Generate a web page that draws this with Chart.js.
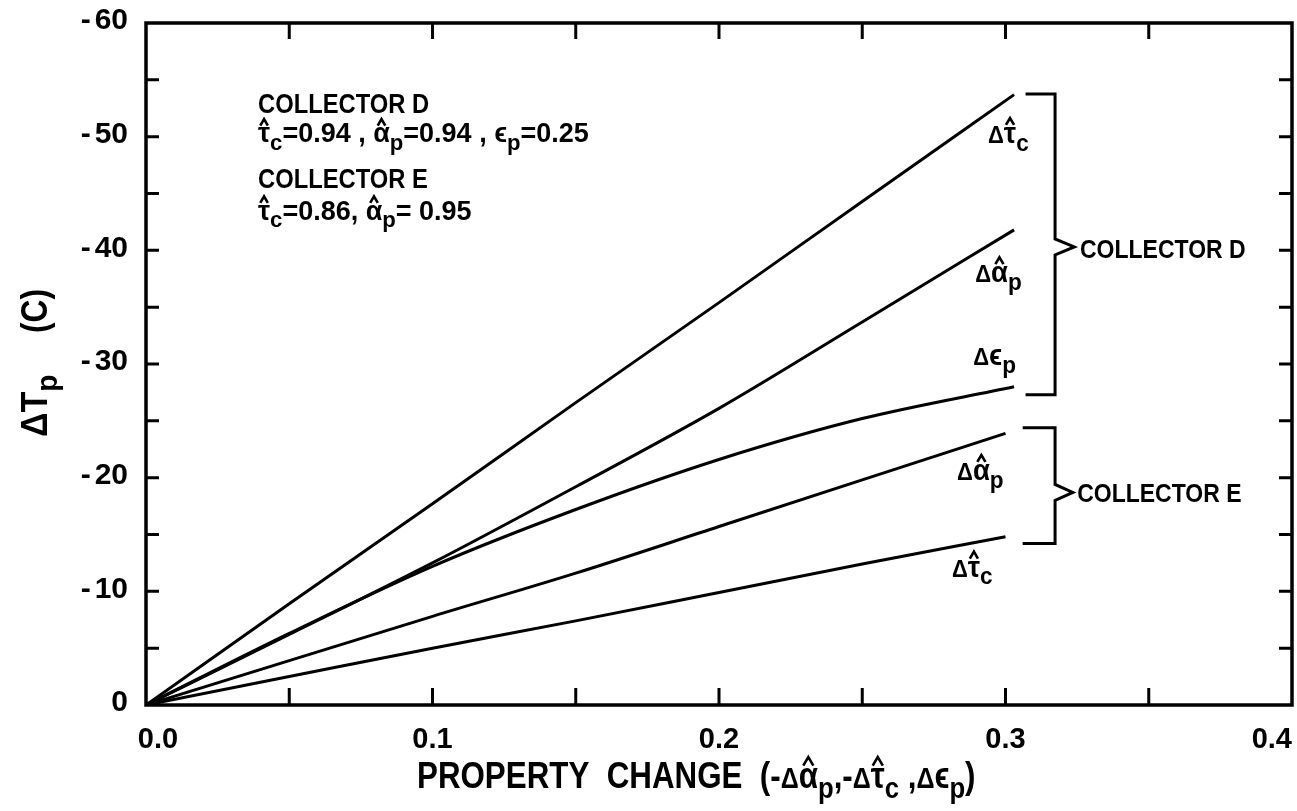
<!DOCTYPE html>
<html>
<head>
<meta charset="utf-8">
<script src="https://cdn.jsdelivr.net/npm/chart.js@4.4.1/dist/chart.umd.min.js"></script>
<style>
  body { margin: 0; background: #fff; }
  canvas { display: block; }
</style>
</head>
<body>
<canvas id="grafica" width="1297" height="811"></canvas>
<script>
// Cambio de propiedad (eje x) para cada colector
const xD = [0, 0.05, 0.10, 0.15, 0.20, 0.25, 0.303];
const xE = [0, 0.05, 0.10, 0.15, 0.20, 0.25, 0.30];

// ΔTp (C)
const tauD   = [0, -8.9, -17.7, -26.6, -35.4, -44.3, -53.7];
const alphaD = [0, -6.2, -12.5, -19.2, -26.1, -33.7, -41.8];
const epsD   = [0, -6.3, -12.2, -17.2, -21.6, -25.2, -28.0];
const alphaE = [0, -3.9, -7.8, -11.6, -15.7, -19.8, -23.9];
const tauE   = [0, -2.5, -5.0, -7.4, -9.9, -12.4, -14.8];

// Etiquetas de los ejes
const xLabelValues = [0, 0.1, 0.2, 0.3, 0.4];
const xTickLabels  = ['0.0', '0.1', '0.2', '0.3', '0.4'];
const yLabelValues = [-60, -50, -40, -30, -20, -10, 0];
const yTickLabels  = ['-60', '-50', '-40', '-30', '-20', '-10', '0'];

const FONT = "'Liberation Sans', 'DejaVu Sans', sans-serif";

function pts(xs, ys) {
  return xs.map((x, i) => ({ x: x, y: ys[i] }));
}

// texto comprimido horizontalmente, regresa el ancho
function put(ctx, str, x, y, size, sq) {
  ctx.font = 'bold ' + size + 'px ' + FONT;
  ctx.save();
  ctx.translate(x, y);
  ctx.scale(sq, 1);
  ctx.fillText(str, 0, 0);
  ctx.restore();
  return ctx.measureText(str).width * sq;
}

function hat(ctx, cx, top, w, h) {
  ctx.beginPath();
  ctx.moveTo(cx - w / 2, top + h);
  ctx.lineTo(cx, top);
  ctx.lineTo(cx + w / 2, top + h);
  ctx.stroke();
}

// partes: texto simple o {t, sub, hat, k}
function rich(ctx, parts, x, y, size, sq) {
  let cx = x;
  ctx.textAlign = 'left';
  ctx.textBaseline = 'alphabetic';
  for (const p of parts) {
    if (typeof p === 'string') { cx += put(ctx, p, cx, y, size, sq); continue; }
    const s = size * (p.k || 1);
    const w = put(ctx, p.t, cx, y, s, sq);
    if (p.hat) {
      ctx.lineWidth = 2.6;
      hat(ctx, cx + w / 2, y - size * 0.86, size * 0.28, size * 0.24);
    }
    cx += w;
    if (p.sub) cx += put(ctx, p.sub, cx, y + size * 0.27, size * 0.82, sq);
  }
  return cx - x;
}

const TAU_C = { t: '\u03c4', hat: true, sub: 'c' };
const ALPHA_P = { t: '\u03b1', hat: true, sub: 'p' };
const EPS_P = { t: '\u03f5', sub: 'p' };
const DELTA = { t: '\u0394', k: 0.8 };

const marco = {
  id: 'marco',
  afterDraw(chart) {
    const ctx = chart.ctx;
    const a = chart.chartArea;
    const sx = chart.scales.x, sy = chart.scales.y;
    const X = v => sx.getPixelForValue(v), Y = v => sy.getPixelForValue(v);
    ctx.save();
    ctx.strokeStyle = '#000';
    ctx.fillStyle = '#000';
    ctx.lineCap = 'butt';

    // marco
    ctx.lineWidth = 3.5;
    ctx.strokeRect(a.left, a.top, a.right - a.left, a.bottom - a.top);

    // marcas hacia adentro
    ctx.lineWidth = 3;
    ctx.beginPath();
    sx.ticks.forEach(t => {
      const px = X(t.value);
      if (px <= a.left + 2 || px >= a.right - 2) return;
      ctx.moveTo(px, a.bottom); ctx.lineTo(px, a.bottom - 17);
      ctx.moveTo(px, a.top); ctx.lineTo(px, a.top + 16);
    });
    sy.ticks.forEach(t => {
      const py = Y(t.value);
      if (py <= a.top + 2 || py >= a.bottom - 2) return;
      ctx.moveTo(a.left, py); ctx.lineTo(a.left + 13, py);
      ctx.moveTo(a.right, py); ctx.lineTo(a.right - 13, py);
    });
    ctx.stroke();

    // etiquetas de los ejes
    ctx.textBaseline = 'middle';
    yLabelValues.forEach((v, i) => {
      const s = yTickLabels[i];
      ctx.font = 'bold 30px ' + FONT;
      ctx.textAlign = 'right';
      if (s.startsWith('-')) {
        ctx.fillText(s.slice(1), 128, Y(v) - 2);
        const w = ctx.measureText(s.slice(1)).width;
        ctx.fillText('-', 128 - w - 4, Y(v) - 2);
      } else {
        ctx.fillText(s, 128, Y(v) - 2);
      }
    });
    ctx.font = 'bold 29px ' + FONT;
    ctx.textBaseline = 'top';
    xLabelValues.forEach((v, i) => {
      let px = X(v);
      ctx.textAlign = 'center';
      if (i === 0) px += 12;
      if (i === xLabelValues.length - 1) { ctx.textAlign = 'right'; }
      ctx.fillText(xTickLabels[i], px, a.bottom + 20);
    });

    // titulo eje x
    rich(ctx, ['PROPERTY  CHANGE  (-', DELTA, ALPHA_P, ',-', DELTA, TAU_C, ' ,', DELTA, EPS_P, ')'],
      417, 788, 36, 0.87);

    // titulo eje y
    ctx.save();
    ctx.translate(47, 437);
    ctx.rotate(-Math.PI / 2);
    rich(ctx, ['\u0394T', { t: '', sub: 'p' }], 0, 0, 37, 0.92);
    put(ctx, '(C)', 104, 0, 36, 0.88);
    ctx.restore();

    // texto de los colectores
    const L = X(0.0391);
    put(ctx, 'COLLECTOR D', L, Y(-52.1), 27, 0.88);
    rich(ctx, [TAU_C, '=0.94 , ', ALPHA_P, '=0.94 , ', EPS_P, '=0.25'], L, Y(-49.5), 27, 1.0);
    put(ctx, 'COLLECTOR E', L, Y(-45.5), 27, 0.88);
    rich(ctx, [TAU_C, '=0.86, ', ALPHA_P, '= 0.95'], L, Y(-42.7), 27, 1.0);

    // nombres de las curvas
    rich(ctx, [DELTA, TAU_C], X(0.2939), Y(-49.45), 29, 0.95);
    rich(ctx, [DELTA, ALPHA_P], X(0.2894), Y(-37.2), 29, 0.95);
    rich(ctx, [DELTA, EPS_P], X(0.2887), Y(-29.9), 29, 0.95);
    rich(ctx, [DELTA, ALPHA_P], X(0.2831), Y(-19.8), 29, 0.95);
    rich(ctx, [DELTA, TAU_C], X(0.2813), Y(-11.3), 29, 0.95);

    // llaves
    ctx.lineWidth = 3;
    const llave = (x0, xv, xp, top, bot, mid) => {
      const h = 8;
      ctx.beginPath();
      ctx.moveTo(X(x0), Y(top));
      ctx.lineTo(X(xv), Y(top));
      ctx.lineTo(X(xv), Y(mid) - h);
      ctx.lineTo(X(xp), Y(mid));
      ctx.lineTo(X(xv), Y(mid) + h);
      ctx.lineTo(X(xv), Y(bot));
      ctx.lineTo(X(x0), Y(bot));
      ctx.stroke();
    };
    llave(0.307, 0.3173, 0.324, -53.75, -27.3, -40.3);
    llave(0.306, 0.3173, 0.3235, -24.4, -14.2, -18.7);
    put(ctx, 'COLLECTOR D', X(0.326), Y(-39.3), 25, 0.92);
    put(ctx, 'COLLECTOR E', X(0.325), Y(-17.9), 25, 0.92);

    ctx.restore();
  }
};

const linea = (data) => ({
  data: data,
  borderColor: '#000',
  borderWidth: 3,
  pointRadius: 0,
  fill: false,
  cubicInterpolationMode: 'monotone'
});

const data = {
  datasets: [
    linea(pts(xD, tauD)),
    linea(pts(xD, alphaD)),
    linea(pts(xD, epsD)),
    linea(pts(xE, alphaE)),
    linea(pts(xE, tauE))
  ]
};

const config = {
  type: 'line',
  data: data,
  plugins: [marco],
  options: {
    responsive: false,
    animation: false,
    devicePixelRatio: 1,
    layout: { padding: { top: 23, right: 5, left: 0, bottom: 0 } },
    plugins: {
      legend: { display: false },
      tooltip: { enabled: false }
    },
    scales: {
      x: {
        type: 'linear', min: 0, max: 0.4,
        ticks: { display: false, stepSize: 0.05 },
        grid: { display: false },
        border: { display: false },
        afterFit: s => { s.height = 106; }
      },
      y: {
        type: 'linear', min: -60, max: 0, reverse: true,
        ticks: { display: false, stepSize: 5 },
        grid: { display: false },
        border: { display: false },
        afterFit: s => { s.width = 146; }
      }
    }
  }
};

const ctx = document.getElementById('grafica');
const grafica = new Chart(ctx, config);
</script>
</body>
</html>
